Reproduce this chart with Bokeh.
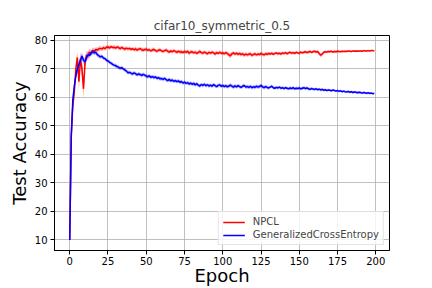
import numpy as np
from bokeh.plotting import figure
from bokeh.models import Range1d, FixedTicker, Legend, LegendItem
from bokeh.embed import file_html
from bokeh.resources import INLINE

title_text = "cifar10_symmetric_0.5"
x_label = "Epoch"
y_label = "Test Accuracy"
series_names = ["NPCL", "GeneralizedCrossEntropy"]
x_ticks = [0, 25, 50, 75, 100, 125, 150, 175, 200]
y_ticks = [10, 20, 30, 40, 50, 60, 70, 80]

epochs = list(range(200))

npcl_mean = [
    10.0, 47.0, 57.0, 62.0, 70.0, 74.0, 65.5, 73.5, 70.0, 63.0,
    72.0, 74.8, 74.5, 75.9, 75.5, 76.5, 76.2, 76.8, 76.6, 77.0,
    77.2, 77.0, 77.4, 77.1, 77.6, 77.7, 77.3, 77.8, 77.5, 77.6,
    77.3, 77.7, 77.4, 77.1, 77.5, 77.2, 76.9, 77.3, 77.0, 77.2,
    76.8, 77.1, 76.7, 77.0, 76.6, 76.9, 77.1, 76.7, 76.5, 76.8,
    76.9, 76.5, 76.7, 76.3, 76.6, 76.8, 76.4, 76.2, 76.5, 76.7,
    76.3, 76.1, 76.4, 76.6, 76.2, 75.9, 76.3, 76.0, 76.4, 76.1,
    75.8, 76.2, 75.9, 76.0, 75.7, 76.1, 75.8, 76.2, 75.5, 75.9,
    76.0, 75.6, 75.9, 75.4, 75.8, 76.1, 75.7, 75.5, 75.9, 75.6,
    75.3, 75.8, 75.5, 75.9, 75.6, 75.2, 75.7, 75.4, 75.8, 75.5,
    75.6, 75.3, 75.7, 75.4, 74.9, 74.6, 75.3, 75.6, 75.2, 75.5,
    75.1, 75.4, 75.0, 75.3, 74.8, 75.2, 74.9, 75.1, 75.3, 74.8,
    75.0, 75.3, 74.9, 75.2, 75.0, 75.4, 75.1, 74.9, 75.3, 75.1,
    75.4, 75.2, 75.5, 75.1, 75.4, 75.6, 75.3, 75.5, 75.2, 75.6,
    75.4, 75.7, 75.3, 75.6, 75.8, 75.5, 75.7, 75.4, 75.8, 75.6,
    75.5, 75.9, 75.6, 75.8, 76.0, 75.7, 75.9, 76.1, 75.8, 76.0,
    76.2, 75.9, 76.1, 75.4, 74.8, 75.2, 75.8, 76.0, 75.9, 76.1,
    76.0, 76.2, 75.9, 76.1, 76.0, 76.2, 76.1, 76.0, 76.2, 76.1,
    76.2, 76.1, 76.3, 76.2, 76.1, 76.3, 76.2, 76.3, 76.2, 76.3,
    76.3, 76.2, 76.4, 76.3, 76.3, 76.4, 76.3, 76.4, 76.4, 76.3,
]

npcl_std = [
    0.3, 3.5, 3.0, 2.5, 2.5, 2.0, 3.0, 2.5, 3.0, 3.5,
    2.5, 1.5, 1.5, 1.2, 1.0, 1.0, 0.9, 0.8, 0.8, 0.8,
    0.8, 0.7, 0.9, 0.7, 0.8, 0.6, 0.8, 0.7, 0.6, 0.8,
    0.7, 0.6, 0.8, 0.7, 0.6, 0.7, 0.8, 0.6, 0.7, 0.6,
    0.7, 0.6, 0.7, 0.8, 0.6, 0.7, 0.6, 0.7, 0.8, 0.6,
    0.7, 0.6, 0.7, 0.6, 0.8, 0.7, 0.6, 0.7, 0.6, 0.7,
    0.6, 0.7, 0.6, 0.7, 0.8, 0.6, 0.7, 0.6, 0.7, 0.6,
    0.7, 0.6, 0.7, 0.8, 0.6, 0.7, 0.6, 0.7, 0.8, 0.6,
    0.7, 0.6, 0.7, 0.6, 0.7, 0.8, 0.6, 0.7, 0.6, 0.7,
    0.6, 0.7, 0.6, 0.7, 0.6, 0.8, 0.7, 0.6, 0.7, 0.6,
    0.7, 0.6, 0.7, 0.6, 0.8, 0.9, 0.7, 0.6, 0.7, 0.6,
    0.7, 0.6, 0.7, 0.6, 0.8, 0.6, 0.7, 0.6, 0.7, 0.8,
    0.6, 0.7, 0.6, 0.7, 0.6, 0.7, 0.6, 0.7, 0.6, 0.7,
    0.6, 0.5, 0.6, 0.5, 0.6, 0.5, 0.6, 0.5, 0.6, 0.5,
    0.5, 0.6, 0.5, 0.6, 0.5, 0.6, 0.5, 0.6, 0.5, 0.5,
    0.6, 0.5, 0.5, 0.6, 0.5, 0.5, 0.6, 0.5, 0.5, 0.5,
    0.5, 0.5, 0.5, 0.6, 0.7, 0.6, 0.5, 0.5, 0.4, 0.4,
    0.4, 0.4, 0.4, 0.4, 0.4, 0.4, 0.4, 0.3, 0.3, 0.3,
    0.3, 0.3, 0.3, 0.3, 0.3, 0.3, 0.3, 0.3, 0.3, 0.3,
    0.3, 0.3, 0.3, 0.3, 0.3, 0.3, 0.3, 0.3, 0.3, 0.3,
]

gce_mean = [
    10.0, 46.0, 59.0, 64.0, 67.5, 70.0, 71.5, 73.0, 74.5, 73.0,
    72.5, 74.0, 75.0, 74.8, 75.5, 76.0, 75.6, 75.8, 75.0, 74.6,
    74.2, 74.4, 73.8, 73.6, 73.0, 72.8, 72.3, 72.0, 71.6, 71.3,
    71.1, 70.8, 70.5, 70.2, 70.4, 70.0, 69.6, 69.3, 68.6, 68.8,
    68.5, 68.2, 68.6, 68.3, 67.9, 68.2, 68.0, 67.7, 68.1, 67.8,
    67.5, 67.2, 67.6, 67.0, 67.3, 66.9, 67.2, 66.7, 66.9, 66.5,
    66.6, 66.3, 66.7, 66.2, 65.9, 66.3, 65.8, 66.1, 65.6, 65.9,
    65.5, 65.8, 65.3, 65.6, 65.0, 65.4, 64.9, 65.2, 64.7, 65.0,
    64.6, 64.9, 64.4, 64.8, 64.3, 64.0, 64.5, 64.2, 64.6, 64.1,
    64.4, 64.0, 64.3, 63.9, 64.5, 64.1, 63.8, 64.2, 64.4, 63.9,
    64.2, 63.8, 64.1, 63.7, 64.0, 64.3, 63.9, 63.6, 64.0, 63.7,
    64.1, 63.8, 63.5, 63.9, 64.2, 63.6, 63.8, 63.5, 63.9, 63.4,
    63.7, 63.5, 63.9, 63.6, 63.8, 64.2, 63.7, 63.4, 63.8, 63.5,
    63.3, 63.6, 63.9, 63.4, 63.2, 63.5, 63.3, 63.6, 63.2, 63.4,
    63.1, 63.4, 63.2, 63.0, 63.3, 63.1, 63.4, 63.0, 63.2, 63.1,
    63.3, 63.0, 63.2, 63.4, 63.1, 63.3, 63.0, 62.8, 63.1, 62.9,
    62.8, 63.0, 62.7, 62.9, 62.6, 62.8, 62.5, 62.7, 62.4, 62.6,
    62.5, 62.3, 62.6, 62.4, 62.2, 62.4, 62.1, 62.3, 62.0, 62.2,
    62.0, 61.9, 62.1, 61.8, 62.0, 61.7, 61.9, 61.8, 61.6, 61.8,
    61.7, 61.5, 61.7, 61.6, 61.4, 61.6, 61.4, 61.5, 61.3, 61.4,
]

gce_std = [
    0.3, 2.0, 2.0, 1.8, 1.5, 1.5, 1.3, 1.2, 1.2, 1.2,
    1.2, 1.0, 1.0, 0.9, 0.9, 0.8, 0.8, 0.8, 0.8, 0.7,
    0.7, 0.6, 0.7, 0.6, 0.7, 0.6, 0.7, 0.6, 0.7, 0.6,
    0.7, 0.6, 0.7, 0.6, 0.7, 0.6, 0.7, 0.6, 0.7, 0.6,
    0.6, 0.7, 0.6, 0.7, 0.6, 0.7, 0.6, 0.7, 0.6, 0.7,
    0.6, 0.7, 0.6, 0.7, 0.6, 0.7, 0.6, 0.7, 0.6, 0.7,
    0.6, 0.7, 0.6, 0.7, 0.6, 0.7, 0.6, 0.7, 0.6, 0.7,
    0.6, 0.7, 0.6, 0.7, 0.6, 0.7, 0.6, 0.7, 0.6, 0.7,
    0.6, 0.7, 0.6, 0.7, 0.6, 0.7, 0.6, 0.7, 0.6, 0.7,
    0.6, 0.7, 0.6, 0.7, 0.6, 0.7, 0.6, 0.7, 0.6, 0.7,
    0.6, 0.7, 0.6, 0.7, 0.6, 0.7, 0.6, 0.7, 0.6, 0.7,
    0.6, 0.7, 0.6, 0.7, 0.6, 0.7, 0.6, 0.7, 0.6, 0.7,
    0.6, 0.7, 0.6, 0.7, 0.6, 0.7, 0.6, 0.7, 0.6, 0.7,
    0.6, 0.5, 0.6, 0.5, 0.6, 0.5, 0.6, 0.5, 0.6, 0.5,
    0.6, 0.5, 0.6, 0.5, 0.6, 0.5, 0.6, 0.5, 0.6, 0.5,
    0.6, 0.5, 0.6, 0.5, 0.6, 0.5, 0.6, 0.5, 0.5, 0.5,
    0.5, 0.5, 0.5, 0.5, 0.5, 0.5, 0.5, 0.4, 0.4, 0.4,
    0.4, 0.4, 0.4, 0.4, 0.4, 0.4, 0.4, 0.4, 0.4, 0.4,
    0.4, 0.4, 0.4, 0.4, 0.4, 0.4, 0.4, 0.4, 0.4, 0.4,
    0.4, 0.4, 0.4, 0.4, 0.4, 0.4, 0.4, 0.4, 0.4, 0.4,
]

FONT = "DejaVu Sans"

p = figure(
    width=432, height=288,
    output_backend="svg", toolbar_location=None,
    x_range=Range1d(-9.95, 208.95), y_range=Range1d(6.3, 81.7),
    min_border_left=54, min_border_right=43,
    min_border_top=35, min_border_bottom=36,
)
p.background_fill_color = "white"
p.border_fill_color = "white"
p.outline_line_color = "black"
p.outline_line_width = 1

p.title.text = title_text
p.title.text_font = FONT
p.title.text_font_size = "12px"
p.title.text_font_style = "normal"
p.title.align = "center"
p.title.standoff = 5

npcl_m = np.array(npcl_mean)
npcl_s = np.array(npcl_std)
gce_m = np.array(gce_mean)
gce_s = np.array(gce_std)

p.varea(x=epochs, y1=npcl_m - npcl_s, y2=npcl_m + npcl_s, fill_color="red", fill_alpha=0.3)
r_npcl = p.line(epochs, npcl_mean, line_color="red", line_width=1.5)
p.varea(x=epochs, y1=gce_m - gce_s, y2=gce_m + gce_s, fill_color="blue", fill_alpha=0.3)
r_gce = p.line(epochs, gce_mean, line_color="blue", line_width=1.5)

legend = Legend(
    items=[LegendItem(label=series_names[0], renderers=[r_npcl]),
           LegendItem(label=series_names[1], renderers=[r_gce])],
    location="bottom_right",
    margin=5, padding=4, spacing=2,
    glyph_width=22, glyph_height=10, label_height=10, label_standoff=8,
    label_text_font=FONT, label_text_font_size="10px",
    border_line_color="#cccccc", border_line_width=1,
    background_fill_color="white", background_fill_alpha=0.8,
)
p.add_layout(legend)

for ax in (p.xaxis[0], p.yaxis[0]):
    ax.axis_line_color = "black"
    ax.major_tick_line_color = "black"
    ax.major_tick_in = 0
    ax.major_tick_out = 4
    ax.minor_tick_line_color = None
    ax.major_label_text_font = FONT
    ax.major_label_text_font_size = "10px"
    ax.major_label_text_color = "black"
    ax.axis_label_text_font = FONT
    ax.axis_label_text_font_size = "18px"
    ax.axis_label_text_font_style = "normal"
    ax.axis_label_text_color = "black"
    ax.major_label_standoff = 3
    ax.axis_label_standoff = 2

p.xaxis[0].major_label_standoff = 2
p.xaxis[0].axis_label_standoff = -3

p.xaxis[0].ticker = FixedTicker(ticks=x_ticks)
p.yaxis[0].ticker = FixedTicker(ticks=y_ticks)
p.xaxis[0].axis_label = x_label
p.yaxis[0].axis_label = y_label

for g in (p.xgrid[0], p.ygrid[0]):
    g.grid_line_color = "#b0b0b0"
    g.grid_line_width = 0.8

open("out.html", "w").write(file_html(p, INLINE))
